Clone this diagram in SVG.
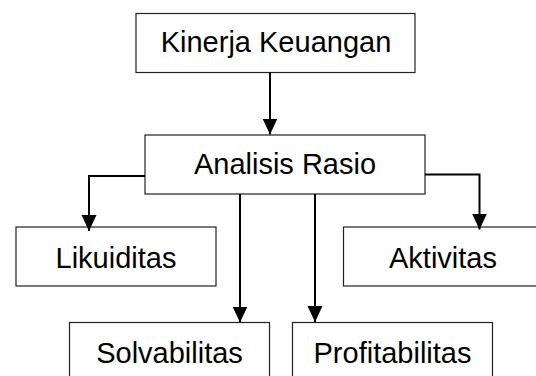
<svg xmlns="http://www.w3.org/2000/svg" width="536" height="376" viewBox="0 0 536 376">
<style>
.box{fill:#fff;stroke:#222;stroke-width:1.2}
.lbl{font-family:"Liberation Sans",Arial,sans-serif;font-size:29px;fill:#000;text-anchor:middle}
.con{fill:none;stroke:#000;stroke-width:2}
</style>
<defs>
<marker id="ah" markerUnits="userSpaceOnUse" markerWidth="16" markerHeight="16" viewBox="0 0 16 16" refX="16" refY="8" orient="auto">
<path d="M0,0.5 L16,8 L0,15.5 Z" fill="#000"/>
</marker>
</defs>
<rect width="536" height="376" fill="#fff"/>
<g id="kinerja"><rect class="box" x="136" y="13.5" width="279" height="59"/><text class="lbl" x="276" y="52">Kinerja Keuangan</text></g>
<g id="analisis"><rect class="box" x="145" y="135" width="280" height="59"/><text class="lbl" x="285" y="174">Analisis Rasio</text></g>
<g id="likuiditas"><rect class="box" x="16" y="227" width="200" height="59"/><text class="lbl" x="116" y="268">Likuiditas</text></g>
<g id="aktivitas"><rect class="box" x="343.5" y="227" width="200" height="59"/><text class="lbl" x="443" y="267.5">Aktivitas</text></g>
<g id="solvabilitas"><rect class="box" x="69.5" y="322.5" width="200" height="59"/><text class="lbl" x="169.5" y="362.5">Solvabilitas</text></g>
<g id="profitabilitas"><rect class="box" x="292.5" y="322.5" width="200" height="59"/><text class="lbl" x="392.5" y="362.5">Profitabilitas</text></g>
<g id="connectors">
<path class="con" d="M270,72.5 V134.5" marker-end="url(#ah)"/>
<path class="con" d="M145,176 H89 V231" marker-end="url(#ah)"/>
<path class="con" d="M425,174.5 H479.5 V229.5" marker-end="url(#ah)"/>
<path class="con" d="M240,194 V322.5" marker-end="url(#ah)"/>
<path class="con" d="M315,194 V322" marker-end="url(#ah)"/>
</g>
</svg>
